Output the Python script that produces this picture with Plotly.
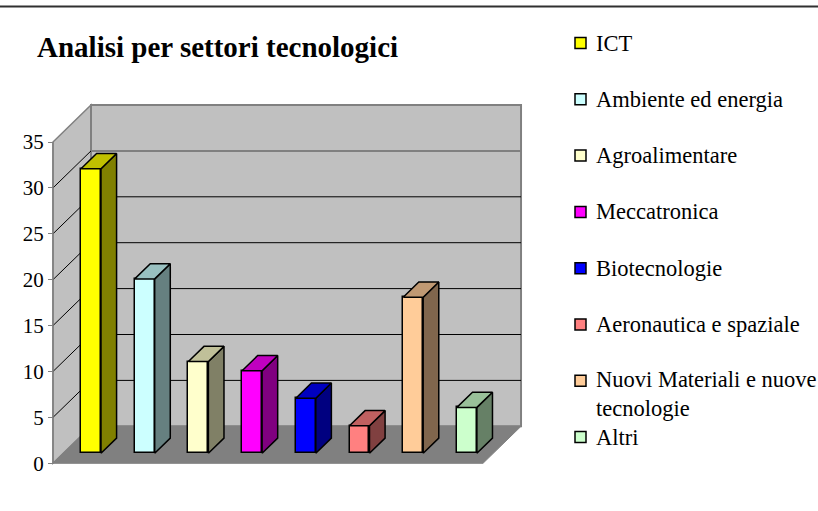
import plotly.graph_objects as go

# ---------------- data ----------------
categories = ["ICT", "Ambiente ed energia", "Agroalimentare", "Meccatronica",
              "Biotecnologie", "Aeronautica e spaziale",
              "Nuovi Materiali e nuove tecnologie", "Altri"]
values = [31, 19, 10, 9, 6, 3, 17, 5]
y_ticks = [0, 5, 10, 15, 20, 25, 30, 35]
title_text = "Analisi per settori tecnologici"

# ---------------- styles ----------------
front_colors = ["#FFFF00", "#CCFFFF", "#FFFFCC", "#FF00FF", "#0000FF", "#FF8080", "#FFCC99", "#CCFFCC"]
side_colors = ["#808000", "#668080", "#808066", "#800080", "#000080", "#804040", "#80664D", "#668066"]
top_colors = ["#C0C000", "#99C0C0", "#C0C099", "#C000C0", "#0000C0", "#C06060", "#C09973", "#99C099"]

W, H = 818, 511
ML, MR, MT, MB = 45, 288, 100, 41
X_RANGE = [-0.8566, 8.175]
Y_RANGE = [-0.730, 39.575]
DEPTH_X, DEPTH_Y = 0.708, 4.03       # full depth offset in data units
FLOOR_RIGHT = 7.30
Y_MAX = y_ticks[-1]
BAR_HALF = 0.186
BAR_D0, BAR_D = 0.27, 0.41
FONT = "Liberation Serif"
WALL = "#C0C0C0"
EDGE = "#808080"

PW = W - ML - MR
PH = H - MT - MB


def px_x(px):
    return (px - ML) / PW


def px_y(py):
    return 1 - (py - MT) / PH


fig = go.Figure()

base = BAR_D0 * DEPTH_Y
dx, dy = BAR_D * DEPTH_X, BAR_D * DEPTH_Y
xs_idx = list(range(len(categories)))

# front faces
fig.add_trace(go.Bar(
    x=xs_idx, y=values, base=base, width=2 * BAR_HALF,
    marker=dict(color=front_colors, line=dict(color="black", width=1.5)),
    showlegend=False, hoverinfo="skip"))

# side and top faces
for i, v in enumerate(values):
    xr = i + BAR_HALF
    fig.add_trace(go.Scatter(
        x=[xr, xr + dx, xr + dx, xr, xr],
        y=[base, base + dy, base + v + dy, base + v, base],
        mode="lines", fill="toself", fillcolor=side_colors[i],
        line=dict(color="black", width=1.5), showlegend=False, hoverinfo="skip"))
    xl = i - BAR_HALF
    fig.add_trace(go.Scatter(
        x=[xl, xr, xr + dx, xl + dx, xl],
        y=[base + v, base + v, base + v + dy, base + v + dy, base + v],
        mode="lines", fill="toself", fillcolor=top_colors[i],
        line=dict(color="black", width=1.5), showlegend=False, hoverinfo="skip"))

shapes = []
back_right = FLOOR_RIGHT + DEPTH_X
# side wall
shapes.append(dict(type="path", xref="x", yref="y", layer="below",
                   path=f"M {-DEPTH_X},0 L {-DEPTH_X},{Y_MAX} L 0,{Y_MAX + DEPTH_Y} L 0,{DEPTH_Y} Z",
                   fillcolor=WALL, line=dict(color=EDGE, width=1.5)))
# back wall
shapes.append(dict(type="rect", xref="x", yref="y", layer="below",
                   x0=0, y0=DEPTH_Y, x1=back_right, y1=Y_MAX + DEPTH_Y,
                   fillcolor=WALL, line=dict(color=EDGE, width=2)))
# floor
shapes.append(dict(type="path", xref="x", yref="y", layer="below",
                   path=f"M {-DEPTH_X},0 L {FLOOR_RIGHT},0 L {back_right},{DEPTH_Y} L 0,{DEPTH_Y} Z",
                   fillcolor=EDGE, line=dict(color=EDGE, width=1)))
# gridlines
for v in y_ticks[1:-1]:
    last = v == y_ticks[-2]
    shapes.append(dict(type="line", xref="x", yref="y", layer="below",
                       x0=0, x1=back_right, y0=v + DEPTH_Y, y1=v + DEPTH_Y,
                       line=dict(color=EDGE if last else "black", width=2 if last else 1)))
    shapes.append(dict(type="line", xref="x", yref="y", layer="below",
                       x0=-DEPTH_X, x1=0, y0=v, y1=v + DEPTH_Y,
                       line=dict(color="black", width=1)))
# front value axis line
shapes.append(dict(type="line", xref="x", yref="y", layer="below",
                   x0=-DEPTH_X, x1=-DEPTH_X, y0=0, y1=Y_MAX,
                   line=dict(color=EDGE, width=1.5)))
# top border of the chart
shapes.append(dict(type="line", xref="paper", yref="paper",
                   x0=px_x(0), x1=px_x(W), y0=px_y(6.5), y1=px_y(6.5),
                   line=dict(color="#303030", width=2)))

annotations = []
annotations.append(dict(text=f"<b>{title_text}</b>", xref="paper", yref="paper",
                        x=px_x(35), y=px_y(47), xanchor="left", yanchor="middle",
                        showarrow=False, font=dict(family=FONT, size=29, color="black")))

# legend (manual)
for i, name in enumerate(categories):
    cy = 43 + 56.3 * i
    shapes.append(dict(type="rect", xref="paper", yref="paper",
                       x0=px_x(575), x1=px_x(586), y0=px_y(cy - 5.5), y1=px_y(cy + 5.5),
                       fillcolor=front_colors[i], line=dict(color="black", width=1.5)))
    label = name.replace("nuove tecnologie", "nuove<br>tecnologie")
    ty = cy + (13 if "<br>" in label else 0)
    annotations.append(dict(text=label, xref="paper", yref="paper",
                            x=px_x(594), y=px_y(ty), xanchor="left", yanchor="middle",
                            align="left", showarrow=False,
                            font=dict(family=FONT, size=22.5, color="black")))

fig.update_layout(
    width=W, height=H,
    margin=dict(l=ML, r=MR, t=MT, b=MB),
    paper_bgcolor="white", plot_bgcolor="white",
    shapes=shapes, annotations=annotations,
    showlegend=False, bargap=0,
    xaxis=dict(range=X_RANGE, visible=False, fixedrange=True),
    yaxis=dict(range=Y_RANGE, anchor="free", position=px_x(53),
               tickvals=y_ticks, ticktext=[str(t) for t in y_ticks],
               ticks="outside", ticklen=5, tickwidth=1, tickcolor=EDGE,
               showgrid=False, zeroline=False, showline=False,
               tickfont=dict(family=FONT, size=21, color="black"), fixedrange=True),
)

fig.write_html("out.html", config={"displayModeBar": False},
               post_script="document.body.style.margin='0';document.body.style.overflow='hidden';")
